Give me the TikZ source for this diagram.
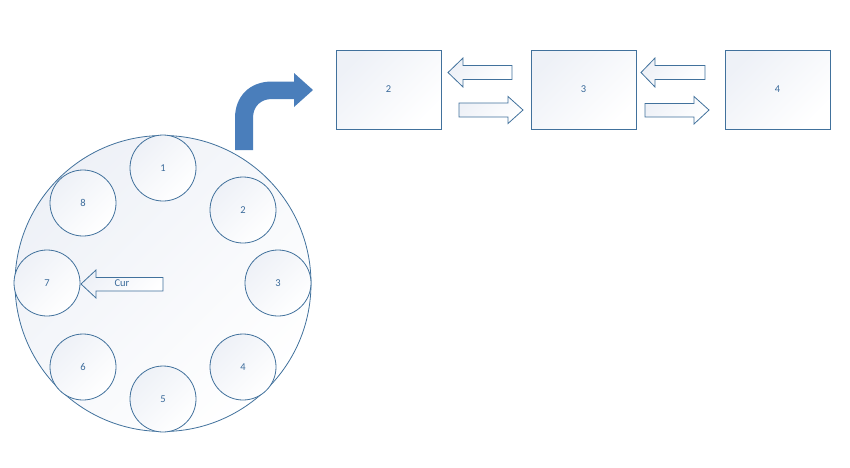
\documentclass[tikz,border=0pt]{standalone}
\usepackage{fontspec}
\setmainfont{Carlito}
\definecolor{edge}{HTML}{41719C}
\definecolor{bendfill}{HTML}{4A7EBB}
\definecolor{txt}{HTML}{3A6A9A}
\definecolor{tint}{HTML}{EEF1F7}
\begin{document}
\begin{tikzpicture}[x=1pt,y=-1pt,
  shp/.style={draw=edge,line width=0.8pt,top color=tint,bottom color=white,shading angle=45},
  slot/.style={shp,circle,minimum size=66pt,inner sep=0pt,font=\fontsize{10.5}{12}\selectfont,text=txt},
  buf/.style={shp,rectangle,minimum width=105pt,minimum height=79pt,inner sep=0pt,font=\fontsize{10.5}{12}\selectfont,text=txt},
  blk/.style={draw=edge,line width=0.8pt,top color=tint,bottom color=white,shading angle=45,line join=miter},
  lbl/.style={font=\fontsize{10.5}{12}\selectfont,text=txt,inner sep=0pt}]
\useasboundingbox (0,0) rectangle (850,467);
% ring
\node[shp,circle,minimum size=296pt,inner sep=0pt] (ring) at (163,283.5) {};
\node[slot] (s1) at (163,168) {1};
\node[slot] (s2) at (243,210) {2};
\node[slot] (s3) at (278,283) {3};
\node[slot] (s4) at (243,367) {4};
\node[slot] (s5) at (163,399) {5};
\node[slot] (s6) at (83,367) {6};
\node[slot] (s7) at (47,283) {7};
\node[slot] (s8) at (83,203) {8};
% Cur arrow
\draw[blk] (81,284) -- (96,270) -- (96,277.5) -- (163,277.5) -- (163,291) -- (96,291) -- (96,298) -- cycle;
\node[lbl] (cur) at (122,283.5) {Cur};
% bent arrow
\fill[bendfill] (235,150) -- (235,118) .. controls (235,97) and (249,81.5) .. (272,81.5)
  -- (294,81.5) -- (294,73) -- (313,90) -- (294,107) -- (294,99) -- (272,99)
  .. controls (261,99) and (253,106) .. (253,118) -- (253,150) -- cycle;
% boxes
\node[buf] (b2) at (388.5,89.5) {2};
\node[buf] (b3) at (583.5,89.5) {3};
\node[buf] (b4) at (777.5,89.5) {4};
% block arrows between boxes
\draw[blk] (448,72.5) -- (463,58) -- (463,65.5) -- (512,65.5) -- (512,79.5) -- (463,79.5) -- (463,87) -- cycle;
\draw[blk] (459,103) -- (508,103) -- (508,96.5) -- (523,110) -- (508,123.5) -- (508,117) -- (459,117) -- cycle;
\draw[blk] (641,72.5) -- (655,58) -- (655,65.5) -- (705,65.5) -- (705,79.5) -- (655,79.5) -- (655,87) -- cycle;
\draw[blk] (645,103.5) -- (694,103.5) -- (694,96.5) -- (709,110) -- (694,124) -- (694,117) -- (645,117) -- cycle;
\end{tikzpicture}
\end{document}
